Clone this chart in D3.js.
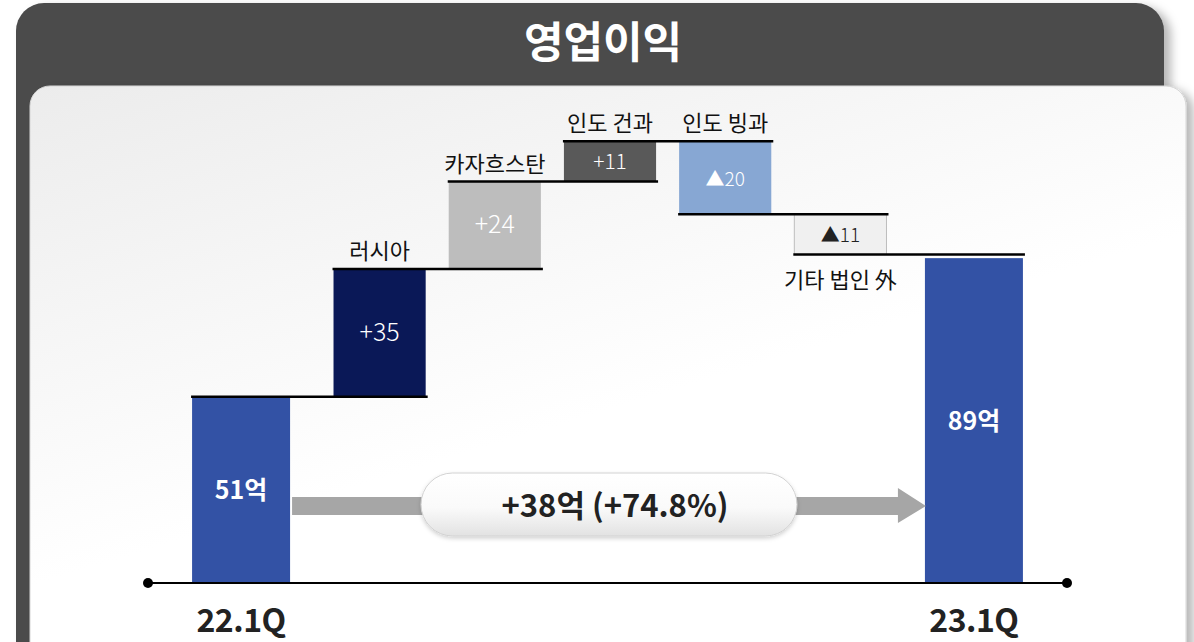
<!DOCTYPE html>
<html>
<head>
  <meta charset="utf-8">
  <script src="https://cdnjs.cloudflare.com/ajax/libs/d3/7.8.5/d3.min.js"></script>
  <style>
    html, body { margin: 0; padding: 0; background: #ffffff; }
    svg { display: block; }
    .kr { font-family: "Noto Sans CJK KR", "Noto Sans", sans-serif; }
  </style>
</head>
<body>
  <svg id="chart" width="1194" height="642"></svg>
  <script>
    // data (억)
    var title = "영업이익";
    var totalLabels = ["22.1Q", "23.1Q"];
    var totalValues = [51, 89];
    var stepNames = ["러시아", "카자흐스탄", "인도 건과", "인도 빙과", "기타 법인 外"];
    var stepValues = [35, 24, 11, -20, -11];
    var changeText = "+38억 (+74.8%)";

    var stepColors = ["#0a1857", "#bdbdbd", "#595959", "#87a7d3", "#f0f0f0"];
    var stepTextColors = ["#ffffff", "#ffffff", "#ffffff", "#ffffff", "#222222"];
    var totalColor = "#3352a5";

    var svg = d3.select("#chart");
    var defs = svg.append("defs");

    // ---- frame ----
    var sh = defs.append("filter").attr("id", "shadow")
      .attr("x", "-5%").attr("y", "-5%").attr("width", "115%").attr("height", "115%");
    sh.append("feDropShadow").attr("dx", 7).attr("dy", 4).attr("stdDeviation", 5)
      .attr("flood-color", "#000").attr("flood-opacity", 0.28);

    var pg = defs.append("linearGradient").attr("id", "panelGrad")
      .attr("x1", "0%").attr("y1", "0%").attr("x2", "55%").attr("y2", "100%");
    pg.append("stop").attr("offset", "0%").attr("stop-color", "#ececec");
    pg.append("stop").attr("offset", "60%").attr("stop-color", "#ffffff");
    pg.append("stop").attr("offset", "100%").attr("stop-color", "#ffffff");

    svg.append("rect")
      .attr("x", 16).attr("y", 3).attr("width", 1148).attr("height", 700)
      .attr("rx", 28).attr("fill", "#4b4b4b")
      .attr("filter", "url(#shadow)");

    svg.append("rect")
      .attr("x", 30).attr("y", 86).attr("width", 1156).attr("height", 640)
      .attr("rx", 20).attr("fill", "url(#panelGrad)")
      .attr("stroke", "#d6d6d6").attr("stroke-width", 1)
      .attr("filter", "url(#shadow)");

    svg.append("text").attr("class", "kr")
      .attr("x", 603).attr("y", 58)
      .attr("text-anchor", "middle")
      .attr("fill", "#ffffff")
      .attr("font-size", 43).attr("font-weight", 700)
      .text(title);

    // ---- scales ----
    var baseY = 583;
    var y = d3.scaleLinear().domain([0, 120]).range([baseY, 145]);

    var xTotal = d3.scalePoint().domain(totalLabels).range([148, 1067]).padding(0.127);
    var xStep = d3.scaleBand().domain(stepNames).range([322, 898]).paddingInner(0.2).paddingOuter(0.1);
    var totalW = 98;

    // running levels
    var levels = [totalValues[0]];
    stepValues.forEach(function(v, i) { levels.push(levels[i] + v); });

    // columns in order: start total, steps, end total
    var cols = [];
    cols.push({ x0: xTotal(totalLabels[0]) - totalW / 2, x1: xTotal(totalLabels[0]) + totalW / 2 });
    stepNames.forEach(function(n) {
      cols.push({ x0: xStep(n), x1: xStep(n) + xStep.bandwidth() });
    });
    cols.push({ x0: xTotal(totalLabels[1]) - totalW / 2, x1: xTotal(totalLabels[1]) + totalW / 2 });

    var g = svg.append("g");

    // ---- total bars ----
    g.selectAll(".total").data(totalValues).enter().append("rect")
      .attr("class", "total")
      .attr("x", function(d, i) { return xTotal(totalLabels[i]) - totalW / 2; })
      .attr("y", function(d) { return y(d); })
      .attr("width", totalW)
      .attr("height", function(d) { return baseY - y(d); })
      .attr("fill", totalColor);

    g.selectAll(".totalVal").data(totalValues).enter().append("text")
      .attr("class", "kr")
      .attr("x", function(d, i) { return xTotal(totalLabels[i]); })
      .attr("y", function(d) { return (y(d) + baseY) / 2 + 9; })
      .attr("text-anchor", "middle")
      .attr("fill", "#ffffff")
      .attr("font-size", 25).attr("font-weight", 700)
      .text(function(d) { return d + "억"; });

    // ---- step bars ----
    g.selectAll(".step").data(stepValues).enter().append("rect")
      .attr("class", "step")
      .attr("x", function(d, i) { return xStep(stepNames[i]); })
      .attr("y", function(d, i) { return y(Math.max(levels[i], levels[i + 1])); })
      .attr("width", xStep.bandwidth())
      .attr("height", function(d, i) { return Math.abs(y(levels[i]) - y(levels[i + 1])); })
      .attr("fill", function(d, i) { return stepColors[i]; })
      .attr("stroke", function(d, i) { return i === 4 ? "#bdbdbd" : "none"; })
      .attr("stroke-width", 1);

    g.selectAll(".stepVal").data(stepValues).enter().append("text")
      .attr("class", "kr")
      .attr("x", function(d, i) { return xStep(stepNames[i]) + xStep.bandwidth() / 2; })
      .attr("y", function(d, i) { return (y(levels[i]) + y(levels[i + 1])) / 2 + 8; })
      .attr("text-anchor", "middle")
      .attr("fill", function(d, i) { return stepTextColors[i]; })
      .attr("font-size", function(d) { return d >= 20 ? 25 : (d > 0 ? 21 : 19); })
      .attr("font-weight", 300)
      .text(function(d) { return (d > 0 ? "+" : "▲") + Math.abs(d); });

    // step names: above the bar, last one below
    g.selectAll(".stepName").data(stepNames).enter().append("text")
      .attr("class", "kr")
      .attr("x", function(d) { return xStep(d) + xStep.bandwidth() / 2; })
      .attr("y", function(d, i) {
        if (i === stepNames.length - 1) return y(levels[i + 1]) + 33;
        return y(Math.max(levels[i], levels[i + 1])) - 10;
      })
      .attr("text-anchor", "middle")
      .attr("fill", "#111111")
      .attr("font-size", 22)
      .text(function(d) { return d; });

    // ---- connector lines ----
    var conns = d3.range(cols.length - 1).map(function(i) {
      return { x0: cols[i].x0, x1: cols[i + 1].x1, v: levels[Math.min(i, levels.length - 1)] };
    });
    g.selectAll(".conn").data(conns).enter().append("line")
      .attr("x1", function(d) { return d.x0 - 1; })
      .attr("x2", function(d) { return d.x1 + 2; })
      .attr("y1", function(d) { return y(d.v); })
      .attr("y2", function(d) { return y(d.v); })
      .attr("stroke", "#000000").attr("stroke-width", 2.5);

    // ---- base axis ----
    svg.append("line")
      .attr("x1", 148).attr("x2", 1067).attr("y1", baseY).attr("y2", baseY)
      .attr("stroke", "#000").attr("stroke-width", 2.2);
    svg.selectAll(".dot").data([148, 1067]).enter().append("circle")
      .attr("cx", function(d) { return d; }).attr("cy", baseY).attr("r", 5)
      .attr("fill", "#000");

    svg.selectAll(".xLab").data(totalLabels).enter().append("text")
      .attr("class", "kr")
      .attr("x", function(d) { return xTotal(d); })
      .attr("y", 632)
      .attr("text-anchor", "middle")
      .attr("fill", "#222222")
      .attr("font-size", 32).attr("font-weight", 700)
      .attr("letter-spacing", -0.5)
      .text(function(d) { return d; });

    // ---- change arrow + pill ----
    var arrowY = 506;
    var ax0 = xTotal(totalLabels[0]) + totalW / 2 + 2;
    var ax1 = xTotal(totalLabels[1]) - totalW / 2 + 1;
    svg.append("path")
      .attr("d", "M" + ax0 + "," + (arrowY - 9) + "H" + (ax1 - 28) + "V" + (arrowY - 18) +
        "L" + ax1 + "," + arrowY + "L" + (ax1 - 28) + "," + (arrowY + 17) +
        "V" + (arrowY + 9) + "H" + ax0 + "Z")
      .attr("fill", "#a6a6a6");

    var pillG = defs.append("linearGradient").attr("id", "pillGrad")
      .attr("x1", "0%").attr("y1", "0%").attr("x2", "0%").attr("y2", "100%");
    pillG.append("stop").attr("offset", "0%").attr("stop-color", "#ffffff");
    pillG.append("stop").attr("offset", "55%").attr("stop-color", "#fafafa");
    pillG.append("stop").attr("offset", "100%").attr("stop-color", "#e2e2e2");

    var ps = defs.append("filter").attr("id", "pillShadow")
      .attr("x", "-5%").attr("y", "-20%").attr("width", "110%").attr("height", "150%");
    ps.append("feDropShadow").attr("dx", 0).attr("dy", 2).attr("stdDeviation", 2)
      .attr("flood-color", "#000").attr("flood-opacity", 0.18);

    svg.append("rect")
      .attr("x", 421).attr("y", 473).attr("width", 376).attr("height", 63)
      .attr("rx", 31.5)
      .attr("fill", "url(#pillGrad)")
      .attr("stroke", "#d2d2d2").attr("stroke-width", 1)
      .attr("filter", "url(#pillShadow)");

    svg.append("text").attr("class", "kr")
      .attr("x", 615).attr("y", 517)
      .attr("text-anchor", "middle")
      .attr("fill", "#222222")
      .attr("font-size", 31).attr("font-weight", 700)
      .attr("letter-spacing", 0)
      .text(changeText);
  </script>
</body>
</html>
